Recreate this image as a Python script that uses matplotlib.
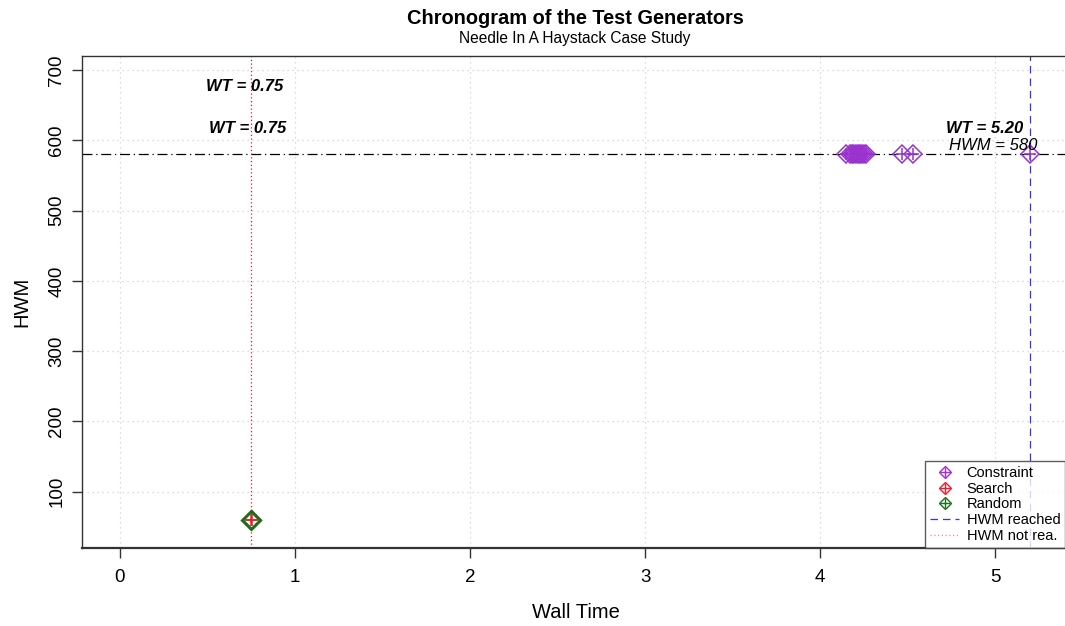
import matplotlib
matplotlib.use('Agg')
import matplotlib.pyplot as plt
from matplotlib.lines import Line2D

plt.rcParams['font.family'] = ['Liberation Sans', 'DejaVu Sans']

# wall time / HWM of each test generator run
constraint_wt = [4.15, 4.17, 4.18, 4.19, 4.20, 4.21, 4.22, 4.23, 4.24, 4.25, 4.26, 4.47, 4.53, 5.20]
constraint_hwm = [580] * len(constraint_wt)
search_wt = [0.755]
search_hwm = [60]
random_wt = [0.75]
random_hwm = [60]

hwm_reached = 580
wt_reached = 5.20
wt_not_reached = 0.75

x_ticks = [0, 1, 2, 3, 4, 5]
y_ticks = [100, 200, 300, 400, 500, 600, 700]

c_constraint = '#9A32CD'
c_search = '#E0202A'
c_random = '#1E6E1E'

fig = plt.figure(figsize=(10.65, 6.26), dpi=100)
ax = fig.add_axes([82 / 1065, 1 - 548 / 626, 1.0 - 82 / 1065 + 0.005, (548 - 56) / 626])
ax.set_xlim(-0.217, 5.43)
ax.set_ylim(20, 720)

# grid
for x in x_ticks:
    ax.axvline(x, color='#d0d0d0', lw=0.9, ls=(0, (1, 3)), zorder=0)
for y in y_ticks:
    ax.axhline(y, color='#d0d0d0', lw=0.9, ls=(0, (1, 3)), zorder=0)

# reference lines
ax.axhline(hwm_reached, color='black', lw=0.9, ls=(0, (8, 3, 1, 3)), zorder=1)
ax.axvline(wt_reached, color='#3333EE', lw=0.9, ls=(0, (6, 4)), zorder=1)
ax.axvline(wt_not_reached, color='#CC2233', lw=0.9, ls=(0, (1, 2)), zorder=1)


def pch9(xs, ys, color):
    ax.plot(xs, ys, ls='none', marker='D', ms=9, mfc='none', mec=color, mew=1.1, zorder=3)
    ax.plot(xs, ys, ls='none', marker='+', ms=9, mec=color, mew=1.1, zorder=3)


pch9(constraint_wt, constraint_hwm, c_constraint)
pch9(search_wt, search_hwm, c_search)
ax.plot(random_wt, random_hwm, ls='none', marker='D', ms=9, mfc='none', mec=c_random, mew=2.2, zorder=4)
ax.plot(random_wt, random_hwm, ls='none', marker='+', ms=9, mec=c_search, mew=1.1, zorder=4)

# annotations
ax.text(0.715, 676, 'WT = 0.75', ha='center', va='center', fontsize=12,
        fontweight='bold', fontstyle='italic')
ax.text(0.73, 617, 'WT = 0.75', ha='center', va='center', fontsize=12,
        fontweight='bold', fontstyle='italic')
ax.text(4.94, 617, 'WT = 5.20', ha='center', va='center', fontsize=12,
        fontweight='bold', fontstyle='italic')
ax.text(4.99, 593, 'HWM = 580', ha='center', va='center', fontsize=12,
        fontstyle='italic')

# axes styling
for s in ax.spines.values():
    s.set_color('#333333')
    s.set_linewidth(1.0)
ax.spines['bottom'].set_linewidth(1.6)
ax.set_xticks(x_ticks)
ax.set_yticks(y_ticks)
ax.set_xticklabels([str(v) for v in x_ticks], fontsize=13.5)
ax.set_yticklabels([str(v) for v in y_ticks], fontsize=13.5, rotation=90, va='center')
ax.tick_params(direction='out', length=7, width=1, color='#333333', pad=8)
ax.tick_params(axis='y', pad=5)
ax.set_xlabel('Wall Time', fontsize=14.5, labelpad=12)
ax.set_ylabel('HWM', fontsize=14.5, labelpad=12)

fig.text(575 / 1065, 1 - 19 / 626, 'Chronogram of the Test Generators', ha='center',
         va='center', fontsize=14.4, fontweight='bold')
fig.text(575 / 1065, 1 - 38 / 626, 'Needle In A Haystack Case Study', ha='center',
         va='center', fontsize=11.2)


# legend
def dp(color):
    return (Line2D([], [], ls='none', marker='D', ms=6.5, mfc='none', mec=color, mew=1),
            Line2D([], [], ls='none', marker='+', ms=6.5, mec=color, mew=1))


handles = [
    dp(c_constraint), dp(c_search), dp(c_random),
    Line2D([], [], color='#3333EE', lw=0.9, ls=(0, (6, 4))),
    Line2D([], [], color='#EE8899', lw=0.9, ls=(0, (1, 2))),
]
labels = ['Constraint', 'Search', 'Random', 'HWM reached', 'HWM not rea.']
leg = ax.legend(handles, labels, loc='lower left', bbox_to_anchor=(0.853, 0.0),
                fontsize=10.5, frameon=True, fancybox=False, borderpad=0.35,
                handlelength=2.0, labelspacing=0.12, handletextpad=0.5, borderaxespad=0)
leg.get_frame().set_edgecolor('#333333')
leg.get_frame().set_linewidth(1.0)

fig.savefig('out.png', dpi=100)
